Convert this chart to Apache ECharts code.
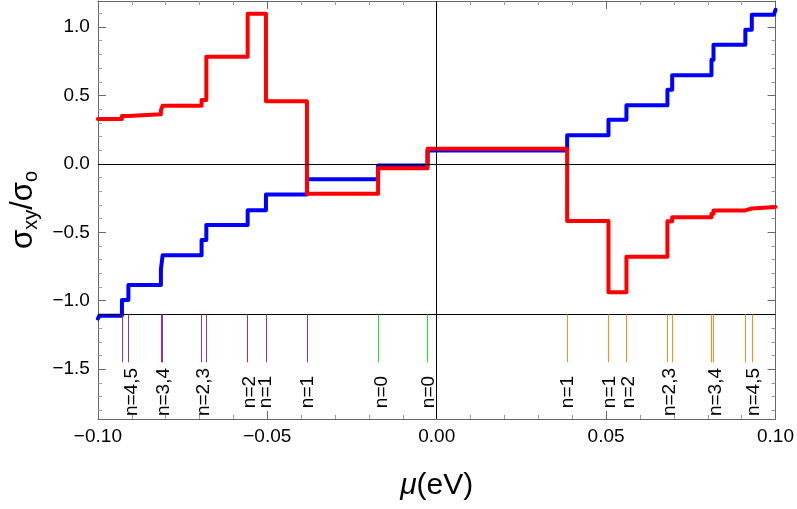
<!DOCTYPE html>
<html>
<head>
<meta charset="utf-8">
<script src="https://cdn.jsdelivr.net/npm/echarts@6/dist/echarts.min.js"></script>
<style>html,body{margin:0;padding:0;background:#fff;}#c{width:797px;height:509px;}</style>
</head>
<body>
<div id="c"></div>
<script>
// ---- data ----
const blueX = [-0.1, -0.0996, -0.0929, -0.0910, -0.0814, -0.0809, -0.0694, -0.0680, -0.0558, -0.0504, -0.0383, -0.0173, -0.0027, 0.0385, 0.0507, 0.0560, 0.0681, 0.0695, 0.0811, 0.0817, 0.0911, 0.0930, 0.0995, 0.1];
const blueY = [-1.13, -1.11, -0.994, -0.885, -0.77, -0.667, -0.556, -0.446, -0.338, -0.224, -0.112, -0.012, 0.097, 0.21, 0.322, 0.429, 0.541, 0.648, 0.76, 0.87, 0.98, 1.089, 1.10, 1.126];
const redX = [-0.1, -0.0929, -0.0910, -0.0814, -0.0809, -0.0694, -0.0680, -0.0558, -0.0504, -0.0383, -0.0173, -0.0027, 0.0385, 0.0507, 0.0560, 0.0681, 0.0695, 0.0811, 0.0817, 0.0911, 0.0930, 0.1];
const redY = [0.327, 0.35, 0.362, 0.39, 0.425, 0.467, 0.782, 1.096, 0.458, -0.219, -0.032, 0.11, -0.417, -0.938, -0.678, -0.42, -0.39, -0.365, -0.34, -0.326, -0.315, -0.31];

const purpleTicks = [-0.0929, -0.0910, -0.0814, -0.0809, -0.0694, -0.0680, -0.0558, -0.0504, -0.0383];
const greenTicks = [-0.0173, -0.0027];
const orangeTicks = [0.0385, 0.0507, 0.0560, 0.0681, 0.0695, 0.0811, 0.0817, 0.0911, 0.0930];
const tickTop = -1.1;
const tickBottom = -1.45;

const levelLabels = ['n=4,5', 'n=3,4', 'n=2,3', 'n=2', 'n=1', 'n=1', 'n=0', 'n=0', 'n=1', 'n=1', 'n=2', 'n=2,3', 'n=3,4', 'n=4,5'];
const levelLabelX = [-0.0901, -0.0806, -0.0687, -0.0553, -0.0504, -0.0381, -0.0163, -0.0023, 0.0388, 0.0512, 0.0567, 0.0687, 0.0823, 0.0935];
const levelLabelY = -1.667;

const xTickLabels = [-0.10, -0.05, 0.00, 0.05, 0.10];
const yMajorTicks = [-1.5, -1.0, -0.5, 0.0, 0.5, 1.0];
const yMinorTicks = [-1.8, -1.7, -1.6, -1.4, -1.3, -1.2, -1.1, -0.9, -0.8, -0.7, -0.6, -0.4, -0.3, -0.2, -0.1, 0.1, 0.2, 0.3, 0.4, 0.6, 0.7, 0.8, 0.9, 1.1];
const xMin = -0.1, xMax = 0.1, yMin = -1.864, yMax = 1.19;

// ---- chart ----
const FONT = 'Liberation Sans, Arial, sans-serif';
const frame = '#666';
const fmtNum = (v, d) => (v < -1e-9 ? '\u2212' : '') + Math.abs(v).toFixed(d);

const pairs = (xs, ys) => xs.map((x, i) => [x, ys[i]]);
const tickSegs = xs => xs.map(x => [{ coord: [x, tickTop] }, { coord: [x, tickBottom] }]);

function yAx(pos, vals, len, color, labels) {
  return {
    type: 'value', position: pos, min: yMin, max: yMax,
    axisLine: { show: labels, onZero: false, lineStyle: { color: frame, width: 1 } },
    axisTick: { show: true, inside: true, length: len, customValues: vals, lineStyle: { color: color, width: 1 } },
    axisLabel: { show: labels && pos === 'left', customValues: yMajorTicks, formatter: v => fmtNum(v, 1), color: '#000', fontSize: 19, fontFamily: FONT, margin: 8 },
    splitLine: { show: false }
  };
}
function xAx(pos, labels) {
  return {
    type: 'value', position: pos, min: xMin, max: xMax,
    axisLine: { show: true, onZero: false, lineStyle: { color: frame, width: 1 } },
    axisTick: { show: true, inside: true, length: 8, customValues: xTickLabels, lineStyle: { color: frame } },
    minorTick: { show: true, splitNumber: 5, length: 4, lineStyle: { color: '#999' } },
    axisLabel: { show: labels, customValues: xTickLabels, formatter: v => fmtNum(v, 2), color: '#000', fontSize: 19, fontFamily: FONT, margin: 8 },
    splitLine: { show: false },
    interval: 0.05,
    name: labels ? '{i|\u03bc}{n|(eV)}' : '',
    nameLocation: 'middle', nameGap: 52,
    nameTextStyle: { rich: { i: { fontSize: 30, fontStyle: 'italic', fontFamily: FONT, color: '#000' }, n: { fontSize: 30, fontFamily: FONT, color: '#000' } } }
  };
}

const yAxes = [
  yAx('left', yMajorTicks, 8, frame, true),
  yAx('left', yMinorTicks, 4, '#999', false),
  yAx('right', yMajorTicks, 8, frame, false),
  yAx('right', yMinorTicks, 4, '#999', false)
];
yAxes[2].axisLine.show = true;
yAxes[0].name = '{s|\u03c3}{b|xy}{s|/\u03c3}{b|o}';
yAxes[0].nameLocation = 'middle';
yAxes[0].nameGap = 56;
yAxes[0].nameRotate = 90;
yAxes[0].nameTextStyle = { rich: {
  s: { fontSize: 31, fontFamily: FONT, color: '#000', lineHeight: 36 },
  b: { fontSize: 20, fontFamily: FONT, color: '#000', verticalAlign: 'bottom', lineHeight: 36, padding: [12, 0, 0, 0] }
} };

const option = {
  animation: false,
  backgroundColor: '#fff',
  grid: { left: 97, right: 19, top: 1, bottom: 90 },
  xAxis: [xAx('bottom', true), xAx('top', false)],
  yAxis: yAxes,
  series: [
    {
      type: 'line', data: [], silent: true,
      markLine: { silent: true, symbol: 'none', animation: false, label: { show: false },
        lineStyle: { color: '#000', width: 1, type: 'solid' },
        data: [{ yAxis: 0 }, { yAxis: tickTop }, { xAxis: 0 }] }
    },
    {
      type: 'line', data: [], silent: true,
      markLine: { silent: true, symbol: 'none', label: { show: false }, lineStyle: { color: '#9a2f9a', width: 1, type: 'solid' }, data: tickSegs(purpleTicks) }
    },
    {
      type: 'line', data: [], silent: true,
      markLine: { silent: true, symbol: 'none', label: { show: false }, lineStyle: { color: '#1ee61e', width: 1, type: 'solid' }, data: tickSegs(greenTicks) }
    },
    {
      type: 'line', data: [], silent: true,
      markLine: { silent: true, symbol: 'none', label: { show: false }, lineStyle: { color: '#ff8c1a', width: 1, type: 'solid' }, data: tickSegs(orangeTicks) }
    },
    {
      type: 'line', step: 'end', data: pairs(blueX, blueY), showSymbol: false,
      lineStyle: { color: '#0000ff', width: 4, join: 'round', cap: 'round' }
    },
    {
      type: 'line', step: 'end', data: pairs(redX, redY), showSymbol: false,
      lineStyle: { color: '#ff0000', width: 4, join: 'round', cap: 'round' }
    },
    {
      type: 'custom', silent: true,
      data: levelLabelX.map((x, i) => [x, levelLabelY, i]),
      renderItem: (params, api) => {
        const p = api.coord([api.value(0), api.value(1)]);
        return {
          type: 'text', x: p[0], y: p[1], rotation: Math.PI / 2,
          style: { text: levelLabels[api.value(2)], fill: '#000', font: '19px ' + FONT, align: 'center', verticalAlign: 'middle' }
        };
      }
    }
  ]
};
echarts.init(document.getElementById('c'), null, { renderer: 'canvas' }).setOption(option);
</script>
</body>
</html>
